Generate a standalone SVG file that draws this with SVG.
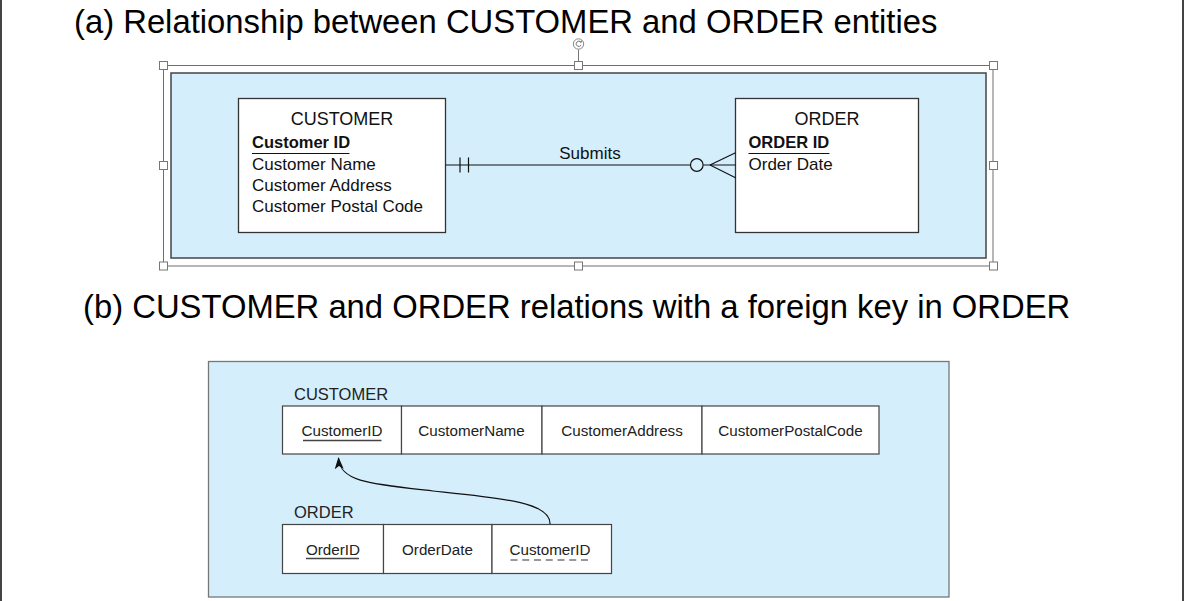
<svg xmlns="http://www.w3.org/2000/svg" width="1185" height="601" viewBox="0 0 1185 601">
  <style>
    .title { font-family: "Liberation Sans", Arial, sans-serif; font-size: 32.8px; fill: #000; }
    .ent { font-family: "Liberation Sans", Arial, sans-serif; font-size: 17px; fill: #111; }
    .enth { font-family: "Liberation Sans", Arial, sans-serif; font-size: 18px; fill: #111; }
    .entb { font-family: "Liberation Sans", Arial, sans-serif; font-size: 16.5px; font-weight: bold; fill: #111; }
    .rel { font-family: "Liberation Sans", Arial, sans-serif; font-size: 15.2px; fill: #222; }
    .relh { font-family: "Liberation Sans", Arial, sans-serif; font-size: 16.5px; fill: #222; }
    .box { fill: #fff; stroke: #333; stroke-width: 1.3; }
    .cell { fill: #fff; stroke: #444; stroke-width: 1.2; }
    .panel { fill: #d5eefc; }
    .ln { stroke: #111; stroke-width: 1.2; fill: none; }
    .handle { fill: #fff; stroke: #777; stroke-width: 1; }
    .frame { fill: none; stroke: #6f6f6f; stroke-width: 1; }
  </style>
  <defs>
    <marker id="arrow" viewBox="0 0 12 10" refX="11" refY="5" markerWidth="12" markerHeight="10" markerUnits="userSpaceOnUse" orient="auto">
      <path d="M12,5 L0,0.5 L3,5 L0,9.5 Z" fill="#111"/>
    </marker>
  </defs>

  <rect x="0" y="0" width="1185" height="601" fill="#fff"/>
  <line x1="1" y1="0" x2="1" y2="601" stroke="#444" stroke-width="2"/>
  <line x1="1183" y1="0" x2="1183" y2="601" stroke="#444" stroke-width="2"/>

  <text class="title" x="74" y="33">(a) Relationship between CUSTOMER and ORDER entities</text>
  <text class="title" x="83" y="318">(b) CUSTOMER and ORDER relations with a foreign key in ORDER</text>

  <!-- Part (a) panel and selection frame -->
  <g id="panel-a">
    <rect class="frame" x="163.5" y="65.5" width="829.5" height="200.5"/>
    <rect class="panel" x="171" y="73" width="815" height="185" stroke="#444" stroke-width="1.5"/>
  </g>
  <g id="selection-handles">
    <line x1="578.5" y1="49.5" x2="578.5" y2="61" stroke="#777" stroke-width="1"/>
    <circle cx="578.5" cy="44" r="5.2" fill="#fff" stroke="#888" stroke-width="1"/>
    <path d="M580.8,42.2 A2.6,2.6 0 1 0 581.1,45" fill="none" stroke="#666" stroke-width="0.9"/>
    <path d="M579.6,41.3 L581.3,42.4 L581.6,40.5" fill="none" stroke="#666" stroke-width="0.8"/>
    <rect class="handle" x="159.5" y="61.5" width="8" height="8"/>
    <rect class="handle" x="574.5" y="61.5" width="8" height="8"/>
    <rect class="handle" x="989.5" y="61.5" width="8" height="8"/>
    <rect class="handle" x="159.5" y="161.5" width="8" height="8"/>
    <rect class="handle" x="989.5" y="161.5" width="8" height="8"/>
    <rect class="handle" x="159.5" y="262" width="8" height="8"/>
    <rect class="handle" x="574.5" y="262" width="8" height="8"/>
    <rect class="handle" x="989.5" y="262" width="8" height="8"/>
  </g>

  <g id="customer-entity">
    <rect class="box" x="238.5" y="98.5" width="207" height="134"/>
    <text class="enth" x="342" y="125" text-anchor="middle">CUSTOMER</text>
    <text class="entb" x="252" y="147.5">Customer ID</text>
    <line x1="252" y1="153.5" x2="349.5" y2="153.5" stroke="#111" stroke-width="1.2"/>
    <text class="ent" x="252" y="169.5">Customer Name</text>
    <text class="ent" x="252" y="190.5">Customer Address</text>
    <text class="ent" x="252" y="211.5">Customer Postal Code</text>
  </g>

  <g id="order-entity">
    <rect class="box" x="735.5" y="98.5" width="183" height="134"/>
    <text class="enth" x="827" y="125" text-anchor="middle">ORDER</text>
    <text class="entb" x="748.5" y="147.5">ORDER ID</text>
    <line x1="748.5" y1="153.5" x2="829.5" y2="153.5" stroke="#111" stroke-width="1.2"/>
    <text class="ent" x="748.5" y="169.5">Order Date</text>
  </g>

  <!-- Part (b) panel -->
  <g id="panel-b">
    <rect class="panel" x="208.5" y="361.5" width="740.5" height="235.5" stroke="#777" stroke-width="1.3"/>
  </g>

  <g id="customer-relation">
    <text class="relh" x="294" y="400">CUSTOMER</text>
    <rect class="cell" x="282.5" y="406" width="119" height="48"/>
    <rect class="cell" x="401.5" y="406" width="140.5" height="48"/>
    <rect class="cell" x="542" y="406" width="160" height="48"/>
    <rect class="cell" x="702" y="406" width="177" height="48"/>
    <text class="rel" x="342" y="436" text-anchor="middle">CustomerID</text>
    <line x1="303" y1="440.5" x2="381.5" y2="440.5" stroke="#444" stroke-width="1.3"/>
    <text class="rel" x="471.5" y="436" text-anchor="middle">CustomerName</text>
    <text class="rel" x="622" y="436" text-anchor="middle">CustomerAddress</text>
    <text class="rel" x="790.5" y="436" text-anchor="middle">CustomerPostalCode</text>
  </g>

  <g id="order-relation">
    <text class="relh" x="294" y="518">ORDER</text>
    <rect class="cell" x="282.5" y="524.5" width="101" height="49"/>
    <rect class="cell" x="383.5" y="524.5" width="108.5" height="49"/>
    <rect class="cell" x="492" y="524.5" width="119.5" height="49"/>
    <text class="rel" x="333" y="554.5" text-anchor="middle">OrderID</text>
    <line x1="306" y1="558.5" x2="359" y2="558.5" stroke="#444" stroke-width="1.3"/>
    <text class="rel" x="437.5" y="554.5" text-anchor="middle">OrderDate</text>
    <text class="rel" x="550" y="555" text-anchor="middle">CustomerID</text>
    <line x1="510.5" y1="560" x2="588" y2="560" stroke="#777" stroke-width="1.3" stroke-dasharray="7 4.75"/>
  </g>

  <g id="connectors">
    <!-- Submits relationship -->
    <line class="ln" x1="445.5" y1="165" x2="690.3" y2="165"/>
    <line class="ln" x1="703.3" y1="165" x2="735.5" y2="165"/>
    <line class="ln" x1="460" y1="157.5" x2="460" y2="172.5"/>
    <line class="ln" x1="468.5" y1="157.5" x2="468.5" y2="172.5"/>
    <circle cx="696.8" cy="165" r="6.3" fill="#d5eefc" stroke="#111" stroke-width="1.2"/>
    <line class="ln" x1="710" y1="165" x2="735.5" y2="152.7"/>
    <line class="ln" x1="710" y1="165" x2="735.5" y2="177.7"/>
    <text class="ent" x="590" y="158.5" text-anchor="middle">Submits</text>
    <!-- Foreign key reference -->
    <path class="ln" d="M550,524 C551,502 500,498 433,491 C370,484 340,482 338.5,458" marker-end="url(#arrow)"/>
  </g>
</svg>
